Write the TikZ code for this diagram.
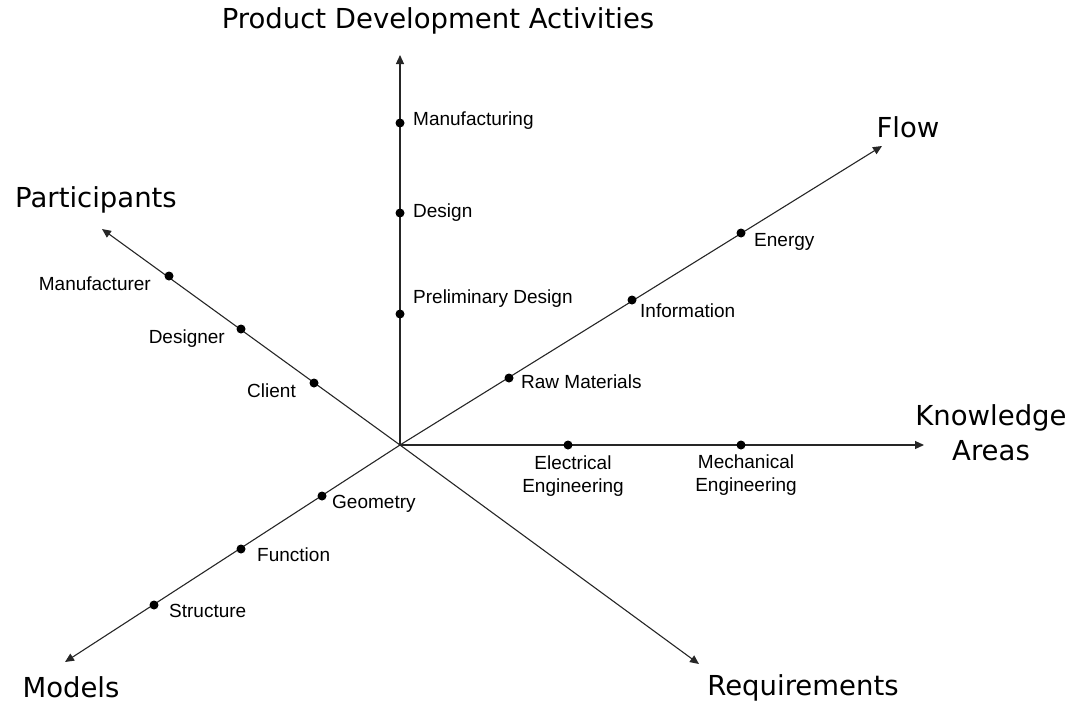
\documentclass[tikz,border=0pt]{standalone}
\usepackage{fontspec}
\setmainfont{Liberation Sans}
\newfontfamily\axisfont{DejaVu Sans}
\usetikzlibrary{arrows.meta}

\begin{document}
\begin{tikzpicture}[x=1pt,y=-1pt,
    axis/.style={draw=black!85,line width=1.1pt,-{Triangle[length=9pt,width=8pt]}},
    dot/.style={circle,fill=black,inner sep=0pt,minimum size=9pt},
    lbl/.style={font=\fontsize{19}{23}\selectfont,inner sep=0pt},
    title/.style={font=\axisfont\fontsize{27.5}{35}\selectfont,inner sep=0pt,align=center}]
    \useasboundingbox (0,0) rectangle (1074,704);
    % Origin and axis ends
    \coordinate (O) at (400,445);
    \coordinate (activities) at (400,55);
    \coordinate (flow) at (882,146);
    \coordinate (participants) at (102,229);
    \coordinate (knowledge) at (924,445);
    \coordinate (models) at (65,662);
    \coordinate (requirements) at (699,664);
    % Axes
    \draw[axis] (O) -- (activities);
    \draw[axis] (O) -- (flow);
    \draw[axis] (O) -- (participants);
    \draw[axis] (O) -- (knowledge);
    \draw[axis] (O) -- (models);
    \draw[axis] (O) -- (requirements);
    % Axis titles
    \node[title,anchor=base] (tactivities) at (438,28) {Product Development Activities};
    \node[title,anchor=base] (tflow) at (908,137) {Flow};
    \node[title,anchor=base] (tparticipants) at (96,207) {Participants};
    \node[title,anchor=north] (tknowledge) at (991,404) {Knowledge\\Areas};
    \node[title,anchor=base] (tmodels) at (71,697) {Models};
    \node[title,anchor=base] (trequirements) at (803,695) {Requirements};
    % Points on the axes
    \node[dot] (manufacturing) at (400,123) {};
    \node[dot] (design) at (400,213) {};
    \node[dot] (prelim) at (400,314) {};
    \node[dot] (raw) at (509,378) {};
    \node[dot] (information) at (632,300) {};
    \node[dot] (energy) at (741,233) {};
    \node[dot] (manufacturer) at (169,276) {};
    \node[dot] (designer) at (241,329) {};
    \node[dot] (client) at (314,383) {};
    \node[dot] (electrical) at (568,445) {};
    \node[dot] (mechanical) at (741,445) {};
    \node[dot] (geometry) at (322,496) {};
    \node[dot] (function) at (241,549) {};
    \node[dot] (structure) at (154,605) {};
    % Point labels
    \node[lbl,anchor=base west] (lmanufacturing) at (413,125) {Manufacturing};
    \node[lbl,anchor=base west] (ldesign) at (413,217) {Design};
    \node[lbl,anchor=base west] (lprelim) at (413,303) {Preliminary Design};
    \node[lbl,anchor=base west] (lraw) at (521,388) {Raw Materials};
    \node[lbl,anchor=base west] (linformation) at (640,317) {Information};
    \node[lbl,anchor=base west] (lenergy) at (754,246) {Energy};
    \node[lbl,anchor=base east] (lmanufacturer) at (151,290) {Manufacturer};
    \node[lbl,anchor=base east] (ldesigner) at (225,343) {Designer};
    \node[lbl,anchor=base east] (lclient) at (296,397) {Client};
    \node[lbl,anchor=north,align=center] (lelectrical) at (573,456) {Electrical\\Engineering};
    \node[lbl,anchor=north,align=center] (lmechanical) at (746,455) {Mechanical\\Engineering};
    \node[lbl,anchor=base west] (lgeometry) at (332,508) {Geometry};
    \node[lbl,anchor=base west] (lfunction) at (257,561) {Function};
    \node[lbl,anchor=base west] (lstructure) at (169,617) {Structure};
\end{tikzpicture}
\end{document}
